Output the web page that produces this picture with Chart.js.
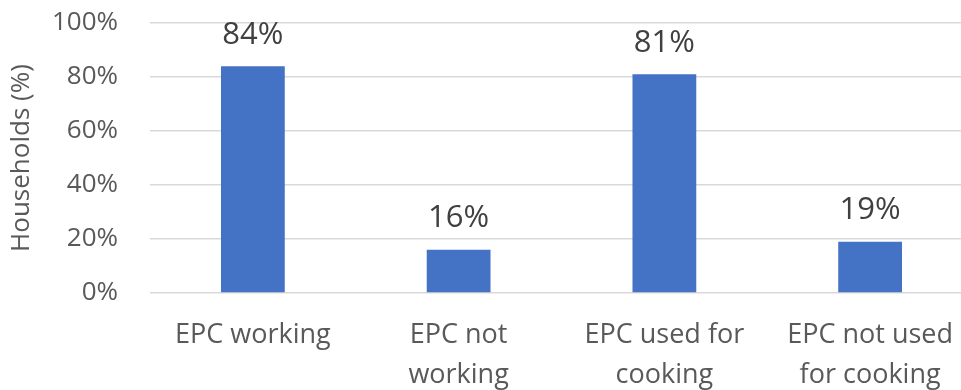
<!DOCTYPE html>
<html>
<head>
<meta charset="utf-8">
<script src="https://cdn.jsdelivr.net/npm/chart.js@4"></script>
<style>
  html, body { margin: 0; padding: 0; background: #ffffff; overflow: hidden; }
  #wrap { width: 975px; height: 390px; position: relative; }
</style>
</head>
<body>
<div id="wrap"><canvas id="c" width="975" height="390"></canvas></div>
<script>
// Household electric pressure cooker (EPC) status
const categories = [
  "EPC working",
  ["EPC not", "working"],
  ["EPC used for", "cooking"],
  ["EPC not used", "for cooking"]
];
const households = [84, 16, 81, 19];
const yTicks = [0, 20, 40, 60, 80, 100];

const FONT = "'Open Sans', 'Noto Sans', sans-serif";
const TEXT = "#595959";

// Writes the percentage above each bar
const valueLabels = {
  id: "valueLabels",
  afterDatasetsDraw(chart) {
    const ctx = chart.ctx;
    const meta = chart.getDatasetMeta(0);
    ctx.save();
    ctx.font = "31px " + FONT;
    ctx.fillStyle = "#404040";
    ctx.textAlign = "center";
    ctx.textBaseline = "bottom";
    meta.data.forEach((bar, i) => {
      ctx.fillText(households[i] + "%", bar.x, bar.y - 16);
    });
    ctx.restore();
  }
};

new Chart(document.getElementById("c"), {
  type: "bar",
  data: {
    labels: categories,
    datasets: [{
      data: households,
      backgroundColor: "#4472C4",
      borderWidth: 0,
      categoryPercentage: 1,
      barPercentage: 0.31
    }]
  },
  options: {
    responsive: false,
    animation: false,
    layout: { padding: { top: 23, right: 2, left: 0, bottom: 0 } },
    plugins: { legend: { display: false }, tooltip: { enabled: false } },
    scales: {
      x: {
        grid: { display: false, drawTicks: false },
        border: { display: false },
        ticks: {
          color: TEXT,
          font: { family: FONT, size: 27, lineHeight: 1.48 },
          padding: 22,
          autoSkip: false,
          maxRotation: 0
        },
        afterFit(scale) {
          scale.height = 97;
          scale.paddingLeft = 0;
          scale.paddingRight = 0;
        }
      },
      y: {
        min: 0,
        max: 100,
        afterBuildTicks(scale) { scale.ticks = yTicks.map(v => ({ value: v })); },
        grid: { color: "#d9d9d9", lineWidth: 1.5, drawTicks: false },
        border: { display: false },
        ticks: {
          color: TEXT,
          font: { family: FONT, size: 26 },
          padding: 32,
          callback: v => v + "%"
        },
        title: {
          display: true,
          text: "Households (%)",
          color: TEXT,
          font: { family: FONT, size: 26 },
          padding: { top: 6, bottom: 0 }
        },
        afterFit(scale) {
          scale.width = 150;
          scale.paddingTop = 0;
          scale.paddingBottom = 0;
        }
      }
    }
  },
  plugins: [valueLabels]
});
</script>
</body>
</html>
